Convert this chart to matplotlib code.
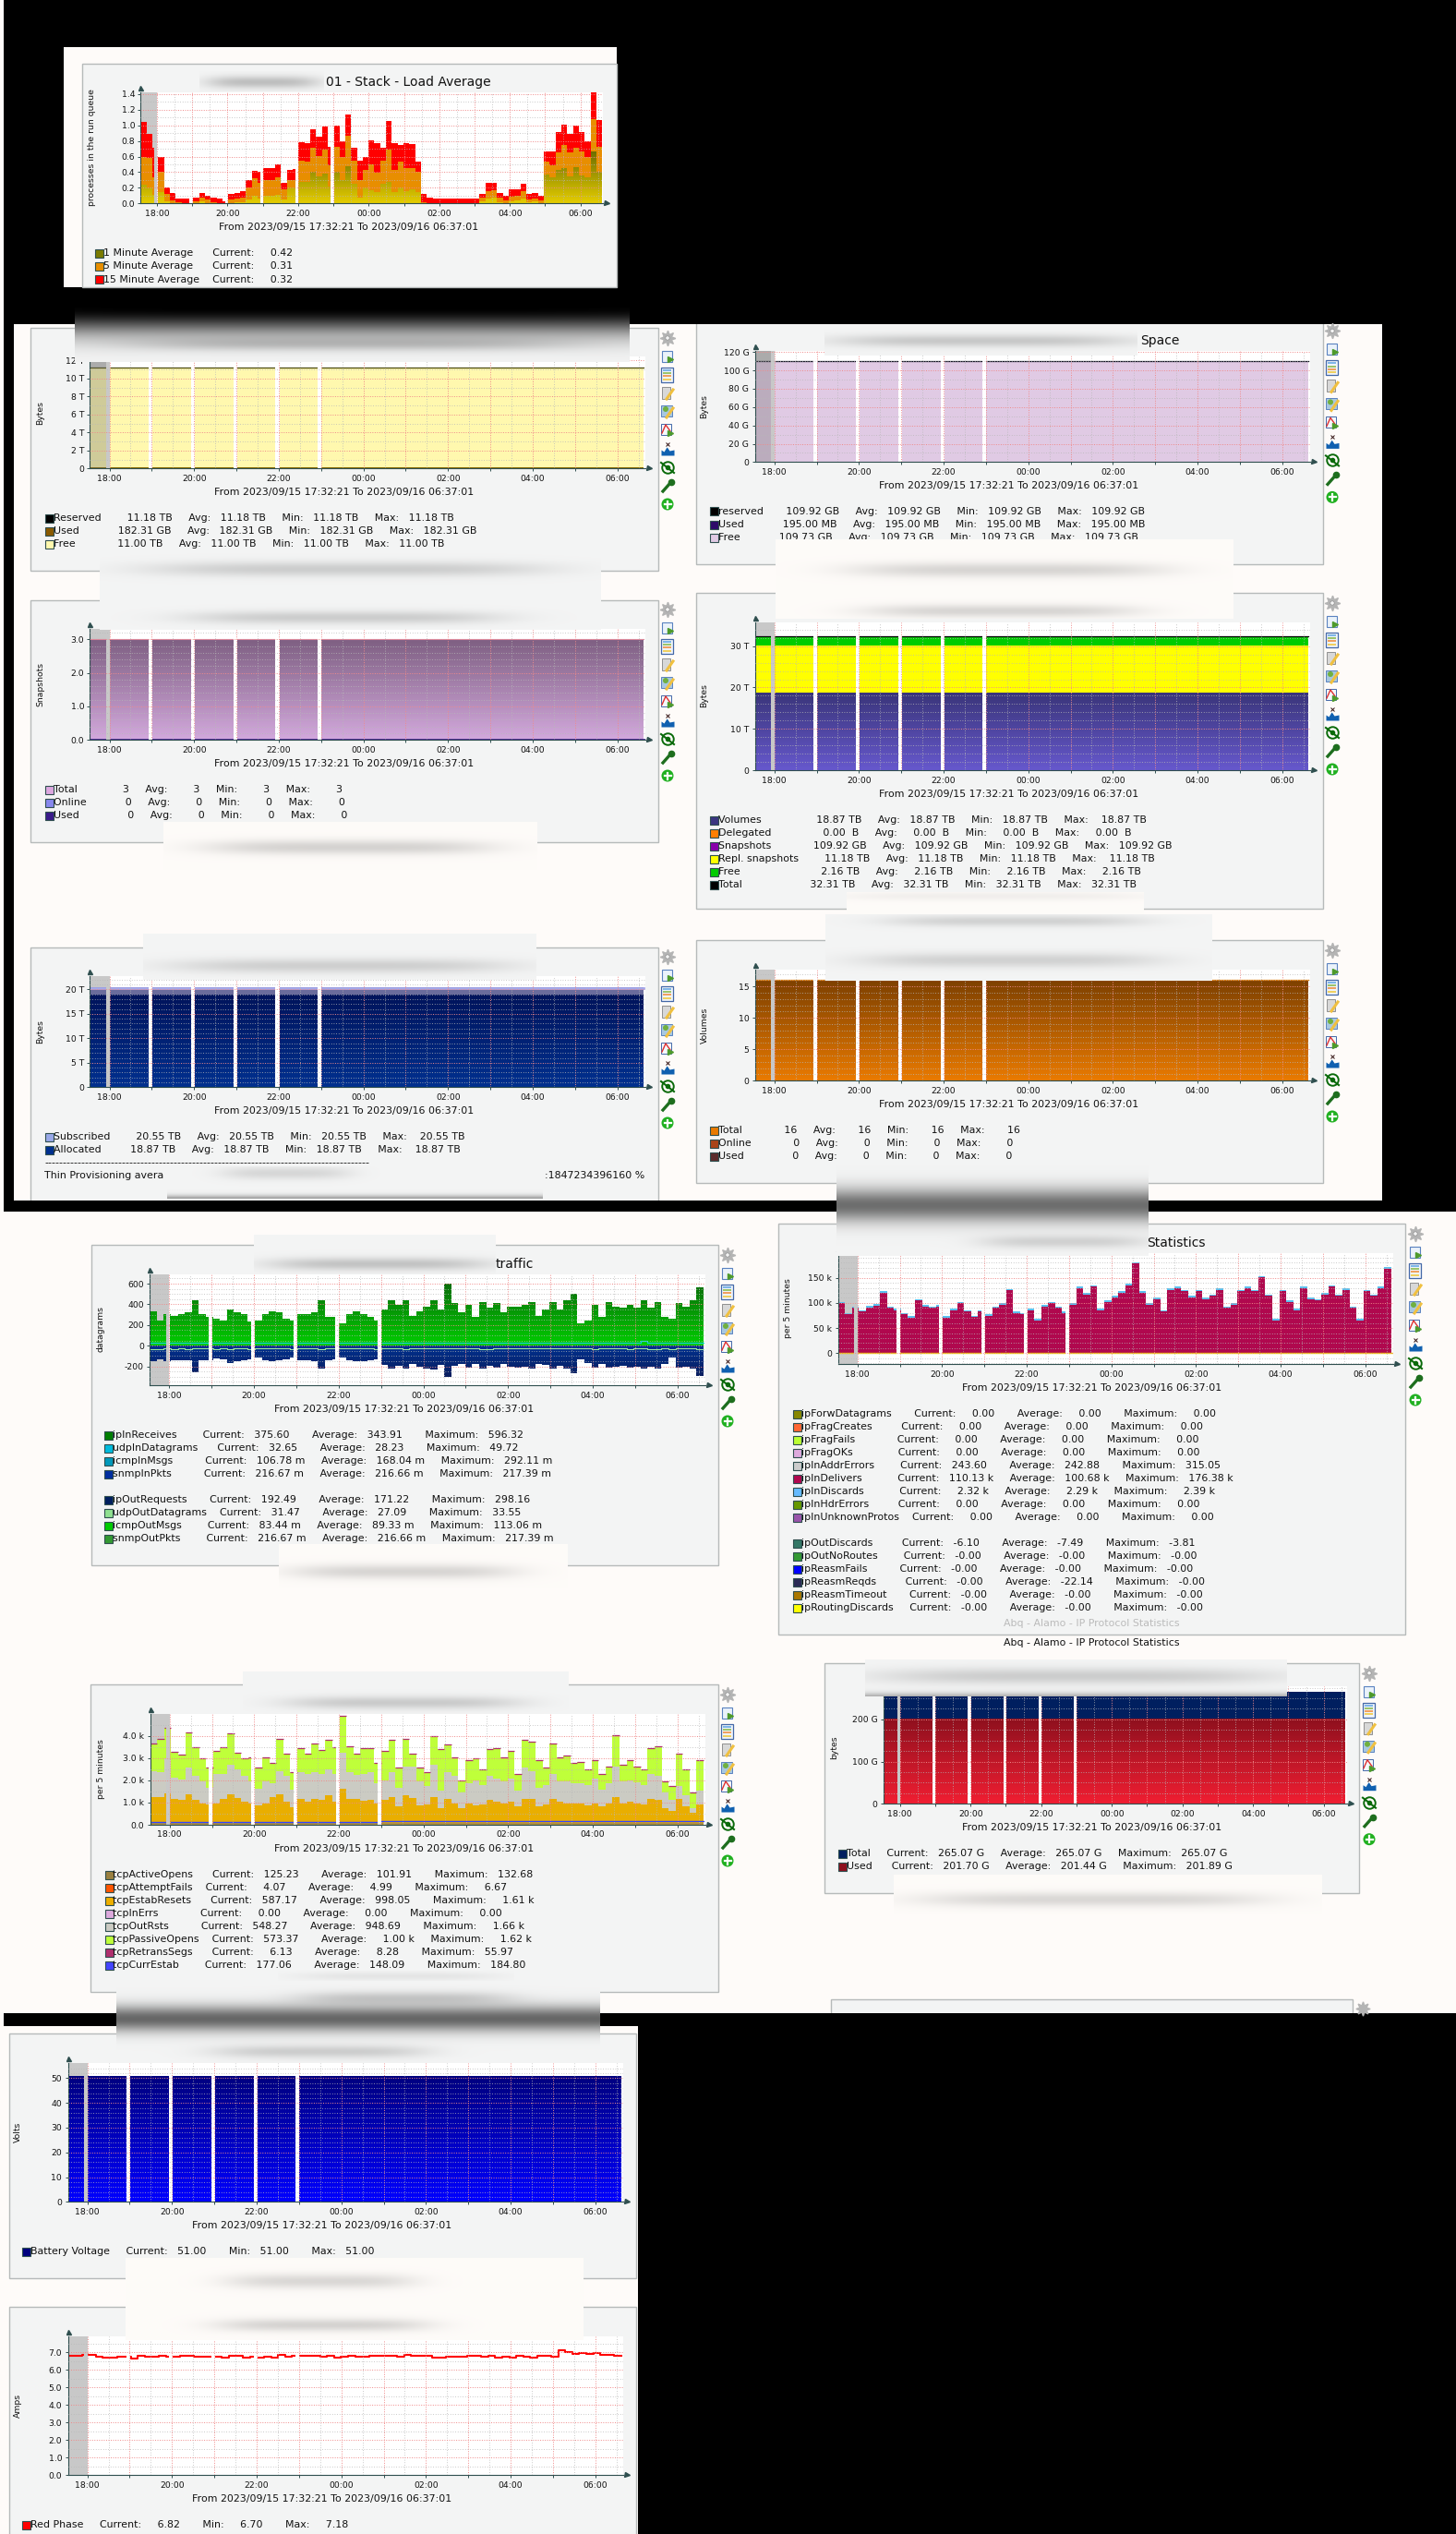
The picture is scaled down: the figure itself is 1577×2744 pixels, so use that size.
import re
import numpy as np
import matplotlib
matplotlib.use("Agg")
import matplotlib.pyplot as plt
from matplotlib.patches import Rectangle, Circle
from matplotlib.colors import LinearSegmentedColormap

W = 1577
H = 2744
plt.rcParams['font.family'] = ['DejaVu Sans']

FROM_TO = "From 2023/09/15 17:32:21 To 2023/09/16 06:37:01"
hour_ticks = [0, 1, 2, 3, 4, 5, 6, 7, 8, 9, 10, 11, 12]
hour_labels = ["18:00", "", "20:00", "", "22:00", "", "00:00", "", "02:00", "", "04:00", "", "06:00"]
gap_starts = [-0.075, 0.925, 1.93, 2.925, 3.925, 4.92]
gap_width = 0.09
T_START = -0.461
T_END = 12.617

# stacked tops, every 10 minutes
load_15min_top = [1.04, .89, .71, .6, .2, .14, .06, .06, .06, .07, .14, .10, .07, .06, .03, .12, .14, .16, .30, .42, .41, .45, .45, .50, .26, .43, .44, .78, .77, .95, .85, .98, .73, .99, .79, 1.14, .71, .55, .6, .81, .77, .71, 1.05, .77, .75, .77, .76, .53, .12, .08, .06, .06, .06, .06, .06, .06, .06, .06, .12, .26, .26, .14, .1, .18, .185, .25, .12, .13, .1, .67, .67, .91, 1.01, .89, .99, .91, .79, 1.42, 1.07]
load_5min_top = [.59, .58, .34, .4, .12, .04, .02, .01, .01, .03, .07, .05, .02, .01, .01, .05, .06, .08, .2, .32, .26, .3, .3, .34, .18, .3, .3, .55, .54, .71, .61, .69, .49, .73, .59, .87, .55, .3, .43, .5, .39, .55, .69, .43, .53, .45, .45, .41, .02, .01, .01, .01, .01, .01, .01, .01, .01, .01, .08, .16, .17, .08, .04, .09, .1, .16, .05, .06, .04, .53, .49, .65, .75, .65, .71, .67, .59, 1.08, .73]
load_1min_top = [.24, .21, .11, .15, .03, .01, 0, 0, 0, .01, .03, .01, 0, 0, 0, .01, .02, .02, .05, .1, .06, .1, .1, .11, .05, .2, .2, .28, .28, .4, .35, .38, .22, .4, .3, .48, .25, .08, .2, .17, .15, .25, .28, .15, .2, .16, .18, .15, .01, 0, 0, 0, 0, 0, 0, 0, 0, 0, .03, .06, .07, .02, .01, .03, .04, .06, .02, .03, .01, .37, .33, .43, .45, .35, .46, .36, .34, .66, .41]

# flat series, one value for the whole period
free_top = [11.18]
used_top = [0.18]
snap_total = [3.0]
subscribed = [20.55]
allocated = [18.87]
reserved_g = [109.92]
vol_volumes = [18.87]
vol_repl = [30.16]
vol_free = [32.31]
volumes_total = [16]
ip_total_g = [265.07]
ip_used_g = [201.7]
battery = [51.0]

traffic_in = [334, 245, 304, 290, 304, 320, 439, 304, 275, 260, 245, 350, 320, 304, 230, 245, 304, 334, 320, 260, 245, 304, 304, 320, 439, 275, 275, 215, 304, 334, 304, 275, 245, 350, 439, 394, 439, 290, 334, 379, 439, 350, 603, 409, 320, 394, 275, 424, 364, 409, 320, 379, 379, 394, 424, 290, 350, 424, 350, 439, 499, 215, 245, 394, 275, 424, 379, 364, 394, 364, 439, 364, 424, 275, 260, 409, 379, 439, 567]
traffic_out = [-152, -128, -150, -143, -143, -143, -254, -143, -137, -122, -131, -164, -146, -140, -128, -113, -143, -152, -143, -128, -113, -143, -137, -150, -218, -137, -128, -113, -143, -152, -150, -137, -128, -182, -218, -197, -218, -173, -203, -218, -230, -188, -301, -197, -173, -209, -173, -218, -197, -209, -173, -203, -209, -203, -224, -173, -188, -218, -197, -218, -263, -128, -167, -209, -173, -212, -203, -197, -209, -203, -224, -203, -218, -173, -113, -212, -203, -221, -292]
udp_in = [30, 31, 30, 30, 30, 29, 30, 28, 30, 28, 27, 28, 29, 29, 29, 28, 27, 28, 30, 30, 28, 27, 28, 28, 28, 27, 28, 29, 29, 29, 28, 27, 28, 29, 29, 28, 28, 27, 27, 28, 28, 28, 28, 27, 27, 28, 28, 27, 27, 28, 28, 27, 27, 28, 28, 27, 27, 28, 28, 29, 28, 28, 27, 28, 28, 27, 28, 28, 28, 30, 50, 30, 28, 30, 29, 29, 28, 29, 30]
udp_out = [-30, -30, -29, -30, -28, -30, -28, -28, -29, -31, -28, -30, -28, -28, -30, -28, -27, -29, -29, -28, -30, -26, -26, -29, -30, -26, -28, -27, -29, -29, -28, -28, -30, -29, -28, -29, -30, -28, -26, -26, -29, -28, -26, -28, -25, -28, -26, -30, -30, -27, -26, -29, -26, -25, -28, -28, -26, -26, -29, -25, -29, -27, -27, -30, -28, -27, -28, -28, -30, -29, -28, -30, -30, -27, -30, -28, -28, -29, -30]

ip_delivers_k = [99, 77, 90, 83, 91, 94.5, 120, 90, 86, 77, 71, 105, 93, 90, 93, 71, 86, 99, 83, 72, 83, 74, 90, 96, 125, 80, 77, 86, 65, 93, 99, 90, 80, 96, 129, 117, 132, 86, 102, 111, 120, 135, 178, 120, 96, 108, 83, 126, 129, 123, 111, 123, 108, 114, 126, 90, 96, 123, 129, 123, 151, 114, 65, 123, 102, 86, 129, 108, 105, 117, 132, 114, 126, 90, 65, 123, 114, 129, 168]

tcp_passive_top = [3.67, 3.87, 4.35, 3.29, 3.14, 4.15, 3.5, 3.0, 2.56, 3.3, 3.5, 4.1, 3.25, 2.97, 3.04, 2.56, 3.04, 2.77, 3.87, 3.18, 2.35, 3.46, 3.18, 3.67, 3.35, 3.8, 3.5, 4.91, 3.53, 3.18, 3.46, 3.46, 2.77, 3.32, 3.8, 2.56, 3.87, 3.18, 2.56, 2.35, 4.0, 3.39, 3.6, 3.04, 2.0, 2.9, 2.97, 2.49, 3.39, 3.46, 3.04, 3.32, 2.28, 3.8, 3.73, 2.9, 2.56, 3.67, 3.04, 3.11, 2.77, 2.84, 2.49, 2.9, 2.28, 2.63, 4.01, 2.7, 2.9, 2.63, 2.49, 3.46, 3.53, 1.94, 1.73, 3.18, 2.49, 1.45, 2.9]
tcp_outrsts_top = [2.42, 2.35, 2.97, 2.12, 2.03, 2.56, 2.21, 1.94, 1.66, 2.28, 2.28, 2.7, 2.49, 2.21, 1.94, 1.62, 1.94, 1.87, 2.42, 2.21, 1.56, 2.35, 2.28, 2.35, 2.28, 2.49, 2.28, 3.25, 2.35, 2.25, 2.28, 2.35, 1.87, 2.0, 2.35, 1.66, 2.63, 2.63, 1.94, 1.73, 2.7, 1.52, 2.35, 2.21, 1.45, 1.87, 2.0, 1.8, 2.21, 2.07, 1.94, 2.07, 1.52, 2.56, 2.42, 1.66, 1.8, 2.28, 1.94, 1.94, 1.87, 1.87, 1.8, 2.07, 1.56, 1.87, 2.63, 1.94, 2.0, 1.89, 1.8, 2.28, 2.21, 1.45, 1.11, 1.73, 1.31, .76, 1.52]
tcp_resets_top = [1.24, 1.24, 1.42, 1.15, 1.11, 1.38, 1.11, .97, .9, .97, 1.15, 1.38, 1.2, 1.04, .97, .87, .97, 1.24, 1.38, 1.04, .79, 1.18, 1.04, 1.18, 1.11, 1.31, 1.04, 1.62, 1.15, 1.18, 1.07, 1.11, .97, 1.11, 1.24, .83, 1.31, 1.2, .87, .9, 1.24, .76, 1.18, .97, .73, .97, .87, .9, 1.11, 1.04, .97, 1.04, .83, 1.18, 1.18, .83, .9, 1.18, 1.04, .97, .97, .97, .87, .97, .83, .97, 1.24, .97, 1.04, .97, .9, 1.15, 1.11, .73, .62, 1.18, .83, .55, .9]
tcp_base_top = [0.1] * 79
tcp_curr_estab = [.12] * 33 + [.17] * 46

red_phase = [6.82, 6.82, 6.85, 6.88, 6.75, 6.72, 6.72, 6.75, 6.78, 6.67, 6.8, 6.78, 6.78, 6.8, 6.78, 6.78, 6.8, 6.8, 6.78, 6.78, 6.78, 6.78, 6.72, 6.8, 6.8, 6.73, 6.78, 6.73, 6.75, 6.73, 6.88, 6.75, 6.82, 6.82, 6.82, 6.82, 6.75, 6.8, 6.72, 6.78, 6.8, 6.78, 6.78, 6.82, 6.82, 6.82, 6.82, 6.78, 6.85, 6.82, 6.82, 6.82, 6.72, 6.72, 6.78, 6.78, 6.78, 6.8, 6.8, 6.78, 6.8, 6.72, 6.76, 6.72, 6.8, 6.76, 6.72, 6.8, 6.82, 6.78, 7.15, 7.02, 6.92, 6.95, 6.92, 6.98, 6.85, 6.85, 6.82]

fig = plt.figure(figsize=(W / 100, H / 100), dpi=100, facecolor="black")

back = fig.add_axes([0, 0, 1, 1], zorder=0)
back.set_xlim(0, W)
back.set_ylim(H, 0)
back.axis("off")

top = fig.add_axes([0, 0, 1, 1], zorder=5)
top.set_xlim(0, W)
top.set_ylim(H, 0)
top.axis("off")
top.patch.set_alpha(0)

PAGE = "#FEFBF9"
CARD = "#F3F4F4"
EDGE = "#B6BABA"
DARK = "#2F4F4F"
TXT = "#111111"
FS = 6.7
FS_TEXT = 7.9


def page(x0, y0, x1, y1, color=PAGE):
    back.add_patch(Rectangle((x0, y0), x1 - x0, y1 - y0, fc=color, ec="none"))


def card(x0, y0, x1, y1):
    back.add_patch(Rectangle((x0, y0), x1 - x0, y1 - y0, fc=CARD, ec=EDGE, lw=1.0))


def edges(vals):
    return np.linspace(T_START, T_END, len(vals) + 1)


def steps(vals):
    return np.r_[vals, vals[-1]]


def band(ax, lo, hi, color, z=1.0):
    x = edges(hi)
    lo = np.zeros(len(x)) if lo is None else steps(lo)
    ax.fill_between(x, lo, steps(hi), step="post", color=color, lw=0, zorder=z)


def grad_band(ax, lo, hi, top_col, bot_col, z=1.0):
    x = edges(hi)
    y0 = np.zeros(len(x)) if lo is None else steps(lo)
    y1 = steps(hi)
    poly = ax.fill_between(x, y0, y1, step="post", facecolor="none", edgecolor="none", zorder=z)
    cmap = LinearSegmentedColormap.from_list("g", [bot_col, top_col])
    low = min(y0.min(), y1.min())
    high = max(y0.max(), y1.max())
    if low < 0:
        cmap = LinearSegmentedColormap.from_list("g", [top_col, bot_col])
    im = ax.imshow(np.linspace(0, 1, 64).reshape(-1, 1), extent=[x[0], x[-1], low, high],
                   origin="lower", aspect="auto", cmap=cmap, zorder=z)
    im.set_clip_path(poly.get_paths()[0], transform=ax.transData)


def plot_box(left, ptop, right, bottom, h18, pph, ymin, ymax, yticks, ylabels, yminor, ylabel, ylx, yly,
             shade_over=False):
    ax = fig.add_axes([left / W, 1 - bottom / H, (right - left) / W, (bottom - ptop) / H], zorder=1)
    xmin = (left - h18) / pph
    xmax = (right - h18) / pph
    ax.set_facecolor("white")
    ax.axvspan(xmin, 0, color="#C8C8C8", lw=0, zorder=0.5)
    if shade_over:
        ax.axvspan(xmin, 0, color="#707070", alpha=0.33, lw=0, zorder=1.9)
    for i, g in enumerate(gap_starts):
        if g < 0:
            ax.axvspan(g, 0, color="#C8C8C8", lw=0, zorder=2)
            ax.axvspan(0, g + gap_width, color="white", lw=0, zorder=2)
        else:
            ax.axvspan(g, g + gap_width, color="white", lw=0, zorder=2)
    ax.set_xticks(hour_ticks)
    ax.set_xticklabels(hour_labels, fontsize=FS, color=TXT)
    ax.set_xticks(np.arange(0.5, 12.6, 1.0), minor=True)
    ax.set_yticks(yticks)
    ax.set_yticklabels(ylabels, fontsize=FS, color=TXT)
    ax.set_yticks(yminor, minor=True)
    ax.tick_params(axis="both", which="major", length=2, width=0.7, color=DARK, pad=2.5)
    ax.tick_params(axis="both", which="minor", length=0)
    ax.set_axisbelow(False)
    ax.grid(True, which="major", color="#F08A8A", lw=0.7, ls=(0, (1, 1.6)))
    ax.grid(True, which="minor", color="#B8B8B8", lw=0.6, ls=(0, (1, 2.2)))
    for s in ["top", "right"]:
        ax.spines[s].set_visible(False)
    for s in ["left", "bottom"]:
        ax.spines[s].set_color(DARK)
        ax.spines[s].set_linewidth(0.8)
    ax.set_xlim(xmin, xmax)
    ax.set_ylim(ymin, ymax)
    top.plot([left], [ptop - 5], marker="^", ms=3.6, color=DARK, zorder=3, clip_on=False)
    top.plot([right + 4], [bottom], marker=">", ms=3.6, color=DARK, zorder=3, clip_on=False)
    top.text(ylx, yly, ylabel, rotation=90, ha="center", va="center", fontsize=FS, color=TXT, zorder=4)
    return ax


def footer(cx, y):
    top.text(cx, y, FROM_TO, ha="center", va="center", fontsize=FS_TEXT, color=TXT, zorder=4)


def tighten(row):
    # the runs of spaces were counted for a narrower space
    return re.sub(" {2,}", lambda m: " " * max(2, round(len(m.group()) * 0.84)), row)


def legend(x, ys, rows, colors):
    for y, row, c in zip(ys, rows, colors):
        top.add_patch(Rectangle((x, y - 4.5), 9, 9, fc=c, ec=DARK, lw=0.8, zorder=4))
        top.text(x + 9, y, tighten(row), ha="left", va="center", fontsize=FS_TEXT, color=TXT, zorder=4)


def rows_y(y0, n, skip=None):
    out = []
    y = y0
    for i in range(n):
        if skip is not None and i == skip:
            y += 14
        out.append(y)
        y += 14
    return out


def icons(cx, y0):
    s = 20
    # gear
    top.plot([cx], [y0], marker=(8, 1, 0), ms=12, color="#B4B4B4", zorder=4)
    top.add_patch(Circle((cx, y0), 5, fc="#B4B4B4", ec="none", zorder=4))
    top.add_patch(Circle((cx, y0), 2.2, fc="#F4F4F4", ec="#909090", lw=0.5, zorder=4))
    # export table
    y = y0 + s
    top.add_patch(Rectangle((cx - 6, y - 6), 11, 12, fc="#EAF2FA", ec="#5A82C0", lw=0.8, zorder=4))
    top.plot([cx + 3], [y + 3], marker=">", ms=5, color="#4E9A2C", zorder=4)
    # table
    y = y0 + 2 * s
    top.add_patch(Rectangle((cx - 7, y - 8), 13, 16, fc="#F0F4FA", ec="#4468A8", lw=0.9, zorder=4))
    for k, c in enumerate(["#7FB6E8", "#9CC46C", "#F0A060", "#F0D060"]):
        top.add_patch(Rectangle((cx - 5, y - 6 + k * 3.2), 9, 2, fc=c, ec="none", zorder=4))
    # page and pencil
    y = y0 + 3 * s
    top.add_patch(Rectangle((cx - 6, y - 7), 9, 13, fc="#D8D8D8", ec="#909090", lw=0.7, zorder=4))
    top.plot([cx - 1, cx + 6], [y + 6, y - 4], color="#F0C040", lw=2.2, zorder=4)
    # map and pencil
    y = y0 + 4 * s
    top.add_patch(Rectangle((cx - 7, y - 7), 12, 12, fc="#A8C8E0", ec="#5A82C0", lw=0.7, zorder=4))
    top.add_patch(Circle((cx - 2, y - 3), 3, fc="#70B040", ec="none", zorder=4))
    top.plot([cx - 1, cx + 6], [y + 6, y - 4], color="#F0C040", lw=2.2, zorder=4)
    # chart and arrow
    y = y0 + 5 * s
    top.add_patch(Rectangle((cx - 7, y - 7), 11, 12, fc="#F4F8FC", ec="#4468A8", lw=0.7, zorder=4))
    top.plot([cx - 6, cx - 2, cx + 3], [y + 3, y - 6, y + 1], color="#E03030", lw=1.0, zorder=4)
    top.plot([cx + 3], [y + 3], marker=">", ms=5, color="#4E9A2C", zorder=4)
    # blue peaks
    y = y0 + 6 * s
    top.fill_between([cx - 7, cx - 4, cx - 1, cx, cx + 2, cx + 7], [y + 7] * 6,
                     [y + 1, y + 3, y - 2, y - 1, y + 2, y + 1], color="#1060B0", lw=0, zorder=4)
    top.plot([cx], [y - 5], marker="x", ms=3, mew=0.7, color="#301010", zorder=4)
    # crossed eye
    y = y0 + 7 * s
    top.plot([cx], [y], marker="o", ms=9, mfc="none", mec="#0A6A0A", mew=1.4, zorder=4)
    top.plot([cx - 7, cx + 7], [y - 5, y + 6], color="#0A6A0A", lw=1.5, zorder=4)
    top.plot([cx], [y], marker="o", ms=3, color="#0A6A0A", zorder=4)
    # wrench
    y = y0 + 8 * s
    top.plot([cx - 5, cx + 3], [y + 6, y - 3], color="#1E6E1E", lw=2.4, zorder=4)
    top.plot([cx + 4], [y - 4], marker="o", ms=4.5, color="#1E6E1E", zorder=4)
    # plus
    y = y0 + 9 * s
    top.add_patch(Circle((cx, y), 6.5, fc="#20B020", ec="none", zorder=4))
    top.plot([cx - 3.5, cx + 3.5], [y, y], color="white", lw=1.6, zorder=4)
    top.plot([cx, cx], [y - 3.5, y + 3.5], color="white", lw=1.6, zorder=4)


def blur_box(x0, y0, x1, y1, blobs, bg=(0.96, 0.96, 0.96)):
    w = int(x1 - x0)
    h = int(y1 - y0)
    yy, xx = np.mgrid[y0:y1:h * 1j, x0:x1:w * 1j]
    shade = np.ones((h, w))
    for cx, cy, sx, sy, s in blobs:
        shade -= s * np.exp(-((xx - cx) / sx) ** 4 - ((yy - cy) / sy) ** 2)
    rgb = np.clip(shade, 0, 1)[..., None] * np.array(bg)
    top.imshow(rgb, extent=[x0, x1, y1, y0], aspect="auto", zorder=5, interpolation="bilinear")


# page backgrounds
page(0, 0, 4, 1312)
page(69, 51, 668, 311)
page(15, 351, 1497, 1300)
page(0, 1312, W, 2180)
page(0, 2180, 4, 2744)
page(4, 2194, 691, 2744)

# ---- load average
back.add_patch(Rectangle((89, 69), 579, 242, fc=CARD, ec=EDGE, lw=1.0))
ax = plot_box(152.4, 100, 653.4, 220.4, 169.7, 38.25, 0, 1.42,
              [0, .2, .4, .6, .8, 1.0, 1.2, 1.4], ["0.0", "0.2", "0.4", "0.6", "0.8", "1.0", "1.2", "1.4"],
              np.arange(0.1, 1.45, 0.2), "processes in the run queue", 99.4, 160)
band(ax, None, load_15min_top, "#FF0000")
band(ax, None, load_5min_top, "#E88E00", 1.1)
grad_band(ax, None, load_1min_top, "#6F6F00", "#E4CC00", 1.2)
ax.set_xlim(T_START, 12.647)
ax.set_ylim(0, 1.42)
top.text(353, 89, "01 - Stack - Load Average", ha="left", va="center", fontsize=10, color=TXT, zorder=4)
footer(378, 246.5)
legend(103, [274, 288, 302.5],
       ["1 Minute Average       Current:      0.42", "5 Minute Average       Current:      0.31",
        "15 Minute Average     Current:      0.32"], ["#7B7B00", "#E88E00", "#FF0000"])

# ---- reserved/used/free TB
card(33, 355, 712.6, 618)
icons(723, 366)
ax = plot_box(97.4, 386, 699, 507.3, 118.8, 45.85, 0, 12.45,
              [0, 2, 4, 6, 8, 10, 12], ["0", "2 T", "4 T", "6 T", "8 T", "10 T", "12 T"],
              np.arange(1, 12, 2), "Bytes", 44, 447, shade_over=True)
band(ax, None, free_top, "#FFF8AE")
band(ax, None, used_top, "#8A6A00", 1.1)
ax.plot(edges(free_top), steps(free_top), color="#4A4A10", lw=0.9, zorder=1.2)
ax.set_xlim(T_START, 12.66)
ax.set_ylim(0, 12.45)
footer(373, 533)
legend(48.5, [561.2, 575, 589.4],
       ["Reserved          11.18 TB      Avg:    11.18 TB      Min:    11.18 TB      Max:    11.18 TB",
        "Used              182.31 GB      Avg:    182.31 GB      Min:    182.31 GB      Max:    182.31 GB",
        "Free               11.00 TB      Avg:    11.00 TB      Min:    11.00 TB      Max:    11.00 TB"],
       ["#000000", "#8A5A00", "#FFF8AE"])

# ---- snapshots count
card(33, 649.5, 712.6, 912.3)
icons(723, 660)
ax = plot_box(97.4, 681, 699, 801.3, 118.8, 45.85, 0, 3.31,
              [0, 1, 2, 3], ["0.0", "1.0", "2.0", "3.0"], np.arange(0.2, 3.3, 0.2), "Snapshots", 44, 740.6)
grad_band(ax, None, snap_total, "#7E5F82", "#D2A8DC")
ax.plot(edges(snap_total), steps(snap_total), color="#D08AA8", lw=0.8, zorder=1.2)
ax.axhline(0, color="#3A1A8A", lw=1.2, zorder=1.3)
ax.set_xlim(T_START, 12.66)
ax.set_ylim(0, 3.31)
footer(373, 827)
legend(48.5, [855, 869, 883],
       ["Total                 3      Avg:          3      Min:          3      Max:          3",
        "Online              0      Avg:          0      Min:          0      Max:          0",
        "Used                  0      Avg:          0      Min:          0      Max:          0"],
       ["#DDA8E0", "#8888EE", "#3A1A8A"])

# ---- subscribed / allocated
card(33, 1025.5, 712.6, 1301)
icons(723, 1036)
ax = plot_box(97.4, 1057, 699, 1177.3, 118.8, 45.85, 0, 22.73,
              [0, 5, 10, 15, 20], ["0", "5 T", "10 T", "15 T", "20 T"], np.arange(1, 23, 1), "Bytes", 44, 1116.5)
band(ax, None, subscribed, "#6A6C9C")
grad_band(ax, None, allocated, "#00145C", "#00308F", 1.1)
ax.plot(edges(subscribed), np.array(steps(subscribed)) - 0.3, color="#A5A8EA", lw=2.0, zorder=1.2)
ax.set_xlim(T_START, 12.66)
ax.set_ylim(0, 22.73)
footer(373, 1202.8)
legend(48.5, [1231, 1245],
       ["Subscribed         20.55 TB      Avg:    20.55 TB      Min:    20.55 TB      Max:     20.55 TB",
        "Allocated           18.87 TB      Avg:    18.87 TB      Min:    18.87 TB      Max:     18.87 TB"],
       ["#99A8E8", "#00308F"])
top.text(48.5, 1258.8, "-" * 88, ha="left", va="center", fontsize=FS_TEXT, color=TXT, zorder=4)
top.text(48.5, 1273, "Thin Provisioning avera", ha="left", va="center", fontsize=FS_TEXT, color=TXT, zorder=4)
top.text(698, 1273, ":1847234396160 %", ha="right", va="center", fontsize=FS_TEXT, color=TXT, zorder=4)

# ---- reserved/used/free GB
card(753.6, 345, 1432.7, 611)
icons(1443, 358.4)
ax = plot_box(817.6, 380, 1419, 500.4, 838.4, 45.85, 0, 121.2,
              [0, 20, 40, 60, 80, 100, 120], ["0", "20 G", "40 G", "60 G", "80 G", "100 G", "120 G"],
              np.arange(10, 121, 20), "Bytes", 763, 440, shade_over=True)
band(ax, None, reserved_g, "#E0CAE4")
ax.plot(edges(reserved_g), steps(reserved_g), color="#101020", lw=0.9, zorder=1.2)
ax.set_xlim(T_START, 12.66)
ax.set_ylim(0, 121.2)
top.text(1235, 369, "Space", ha="left", va="center", fontsize=10, color=TXT, zorder=4)
footer(1093, 526)
legend(768.5, [553.9, 568.2, 582],
       ["reserved        109.92 GB      Avg:   109.92 GB      Min:   109.92 GB      Max:   109.92 GB",
        "Used              195.00 MB      Avg:   195.00 MB      Min:   195.00 MB      Max:   195.00 MB",
        "Free              109.73 GB      Avg:   109.73 GB      Min:   109.73 GB      Max:   109.73 GB"],
       ["#000000", "#2E0A6A", "#E0CAE4"])

# ---- volumes stacked
card(753.6, 642.4, 1432.7, 984)
icons(1443, 653)
ax = plot_box(817.6, 674, 1419, 834.3, 838.4, 45.85, 0, 35.7,
              [0, 10, 20, 30], ["0", "10 T", "20 T", "30 T"], np.arange(2, 36, 2), "Bytes", 763, 753)
band(ax, None, vol_free, "#00CC00")
band(ax, None, vol_repl, "#FFFF00", 1.1)
grad_band(ax, None, vol_volumes, "#3A357A", "#6658CC", 1.2)
ax.plot(edges(vol_free), steps(vol_free), color="#000000", lw=0.9, zorder=1.3)
ax.set_xlim(T_START, 12.66)
ax.set_ylim(0, 35.7)
footer(1093, 860)
legend(768.5, rows_y(888.2, 6),
       ["Volumes                    18.87 TB      Avg:    18.87 TB      Min:    18.87 TB      Max:     18.87 TB",
        "Delegated                   0.00  B      Avg:      0.00  B      Min:      0.00  B      Max:      0.00  B",
        "Snapshots                109.92 GB      Avg:   109.92 GB      Min:   109.92 GB      Max:   109.92 GB",
        "Repl. snapshots          11.18 TB      Avg:    11.18 TB      Min:    11.18 TB      Max:     11.18 TB",
        "Free                              2.16 TB      Avg:      2.16 TB      Min:      2.16 TB      Max:      2.16 TB",
        "Total                         32.31 TB      Avg:    32.31 TB      Min:    32.31 TB      Max:    32.31 TB"],
       ["#3A3580", "#FF7F00", "#8800AA", "#FFFF00", "#00CC00", "#000000"])

# ---- volumes count
card(753.6, 1018.3, 1432.7, 1281)
icons(1443, 1029)
ax = plot_box(817.6, 1050, 1419, 1170.3, 838.4, 45.85, 0, 17.68,
              [0, 5, 10, 15], ["0", "5", "10", "15"], np.arange(1, 17.6, 1), "Volumes", 763, 1110)
grad_band(ax, None, volumes_total, "#7E4100", "#E97A00")
ax.plot(edges(volumes_total), steps(volumes_total), color="#E07800", lw=0.9, zorder=1.2)
ax.set_xlim(T_START, 12.66)
ax.set_ylim(0, 17.68)
footer(1093, 1196.3)
legend(768.5, rows_y(1224.3, 3),
       ["Total               16      Avg:        16      Min:        16      Max:        16",
        "Online               0      Avg:          0      Min:          0      Max:          0",
        "Used                  0      Avg:          0      Min:          0      Max:          0"],
       ["#E97A00", "#AA4418", "#5C2C2C"])

# black above and below the middle screenshot
page(4, 1300, W, 1312, color="black")
page(15, 330, 1497, 351, color="black")

# ---- ip traffic
card(98.5, 1348.3, 777.6, 1695.3)
icons(788, 1359)
ax = plot_box(162.2, 1380, 764, 1500.3, 183.7, 45.85, -385, 690,
              [-200, 0, 200, 400, 600], ["-200", "0", "200", "400", "600"],
              np.arange(-350, 690, 50), "datagrams", 108.7, 1439)
grad_band(ax, None, traffic_in, "#0A6E0A", "#00CC00")
grad_band(ax, None, traffic_out, "#0A1E5F", "#00308F", 1.1)
ax.step(edges(udp_in), steps(udp_in), where="post", color="#18C8D8", lw=0.9, zorder=1.3)
ax.step(edges(udp_out), steps(udp_out), where="post", color="#A0E8A0", lw=0.8, zorder=1.3)
ax.set_xlim(T_START, 12.66)
ax.set_ylim(-385, 690)
top.text(537, 1369.3, "traffic", ha="left", va="center", fontsize=10, color=TXT, zorder=4)
footer(437.8, 1526.3)
legend(113, rows_y(1554.3, 8, skip=4),
       ["ipInReceives          Current:   375.60        Average:   343.91        Maximum:   596.32",
        "udpInDatagrams       Current:    32.65        Average:    28.23        Maximum:    49.72",
        "icmpInMsgs            Current:   106.78 m      Average:   168.04 m      Maximum:   292.11 m",
        "snmpInPkts            Current:   216.67 m      Average:   216.66 m      Maximum:   217.39 m",
        "ipOutRequests        Current:   192.49        Average:   171.22        Maximum:   298.16",
        "udpOutDatagrams     Current:    31.47        Average:    27.09        Maximum:    33.55",
        "icmpOutMsgs          Current:    83.44 m      Average:    89.33 m      Maximum:   113.06 m",
        "snmpOutPkts          Current:   216.67 m      Average:   216.66 m      Maximum:   217.39 m"],
       ["#007F00", "#00BBDD", "#0099BB", "#002E9F", "#001F5F", "#90E090", "#00CC00", "#339933"])

# ---- ip statistics
card(843.3, 1325.3, 1522.4, 1770.3)
icons(1533, 1336)
ax = plot_box(907.6, 1356.7, 1509, 1477.3, 928.6, 45.87, -22000, 199600,
              [0, 50000, 100000, 150000], ["0", "50 k", "100 k", "150 k"],
              np.arange(-20000, 199000, 10000), "per 5 minutes", 854, 1416.7)
ip_delivers = np.array(ip_delivers_k) * 1000
band(ax, None, ip_delivers + 3000, "#5BC0F0")
band(ax, None, ip_delivers, "#B0084E", 1.1)
ax.axhline(0, color="#E8C800", lw=1.0, zorder=1.3)
ax.set_xlim(T_START, 12.66)
ax.set_ylim(-22000, 199600)
top.text(1242, 1346, "Statistics", ha="left", va="center", fontsize=10, color=TXT, zorder=4)
footer(1182.4, 1503.3)
ip_rows = ["ipForwDatagrams        Current:      0.00        Average:      0.00        Maximum:      0.00",
           "ipFragCreates           Current:      0.00        Average:      0.00        Maximum:      0.00",
           "ipFragFails               Current:      0.00        Average:      0.00        Maximum:      0.00",
           "ipFragOKs                 Current:      0.00        Average:      0.00        Maximum:      0.00",
           "ipInAddrErrors          Current:   243.60        Average:   242.88        Maximum:   315.05",
           "ipInDelivers             Current:   110.13 k      Average:   100.68 k      Maximum:   176.38 k",
           "ipInDiscards             Current:      2.32 k      Average:      2.29 k      Maximum:      2.39 k",
           "ipInHdrErrors           Current:      0.00        Average:      0.00        Maximum:      0.00",
           "ipInUnknownProtos     Current:      0.00        Average:      0.00        Maximum:      0.00",
           "ipOutDiscards           Current:    -6.10        Average:    -7.49        Maximum:    -3.81",
           "ipOutNoRoutes          Current:    -0.00        Average:    -0.00        Maximum:    -0.00",
           "ipReasmFails            Current:    -0.00        Average:    -0.00        Maximum:    -0.00",
           "ipReasmReqds           Current:    -0.00        Average:   -22.14        Maximum:    -0.00",
           "ipReasmTimeout        Current:    -0.00        Average:    -0.00        Maximum:    -0.00",
           "ipRoutingDiscards      Current:    -0.00        Average:    -0.00        Maximum:    -0.00"]
legend(858.5, rows_y(1531.3, 15, skip=9), ip_rows,
       ["#888800", "#FF6633", "#BBFF33", "#DDAADD", "#CCCCCC", "#B0084E", "#66BBFF", "#669900", "#9955AA",
        "#337766", "#339933", "#0000FF", "#2A2A55", "#AA7700", "#FFFF00"])
top.text(1182, 1758.3, "Abq - Alamo - IP Protocol Statistics", ha="center", va="center", fontsize=FS_TEXT,
         color="#BBBBBB", zorder=4)
top.text(1182, 1778.7, "Abq - Alamo - IP Protocol Statistics", ha="center", va="center", fontsize=FS_TEXT,
         color=TXT, zorder=4)

# ---- tcp statistics
card(98.4, 1824.3, 777.5, 2157.3)
icons(788, 1835)
ax = plot_box(162.6, 1856, 764, 1976, 183.4, 45.85, 0, 4980,
              [0, 1000, 2000, 3000, 4000], ["0.0", "1.0 k", "2.0 k", "3.0 k", "4.0 k"],
              np.arange(500, 4980, 500), "per 5 minutes", 109, 1915.7)
band(ax, None, np.array(tcp_passive_top) * 1000, "#BFFF3A")
band(ax, None, np.array(tcp_outrsts_top) * 1000, "#CBCBC3", 1.1)
band(ax, None, np.array(tcp_resets_top) * 1000, "#E9AE00", 1.2)
band(ax, None, np.array(tcp_base_top) * 1000, "#AE9040", 1.3)
x_tcp = edges(tcp_passive_top)
ax.hlines(np.array(tcp_passive_top) * 1000, x_tcp[:-1], x_tcp[1:], color="#B0306E", lw=0.9, zorder=1.4)
ax.step(x_tcp, steps(np.array(tcp_curr_estab) * 1000), where="post", color="#3344FF", lw=1.0, zorder=1.5)
ax.set_xlim(T_START, 12.66)
ax.set_ylim(0, 4980)
footer(437.7, 2002.3)
legend(113.5, rows_y(2030.3, 8),
       ["tcpActiveOpens       Current:   125.23        Average:   101.91        Maximum:   132.68",
        "tcpAttemptFails     Current:      4.07        Average:      4.99        Maximum:      6.67",
        "tcpEstabResets       Current:   587.17        Average:   998.05        Maximum:      1.61 k",
        "tcpInErrs                Current:      0.00        Average:      0.00        Maximum:      0.00",
        "tcpOutRsts            Current:   548.27        Average:   948.69        Maximum:      1.66 k",
        "tcpPassiveOpens     Current:   573.37        Average:      1.00 k      Maximum:      1.62 k",
        "tcpRetransSegs       Current:      6.13        Average:      8.28        Maximum:    55.97",
        "tcpCurrEstab          Current:   177.06        Average:   148.09        Maximum:   184.80"],
       ["#9A8040", "#FF5500", "#EEAF00", "#DDAADD", "#CBCBC3", "#BFFF3A", "#B0306E", "#4444FF"])

# ---- total / used
card(893.4, 1801.3, 1472.3, 2050.3)
icons(1483, 1811.7)
ax = plot_box(957, 1826, 1459, 1953.3, 974.3, 38.3, 0, 278.5,
              [0, 100, 200], ["0", "100 G", "200 G"], np.arange(25, 278, 25), "bytes", 903.4, 1892)
band(ax, None, ip_total_g, "#001F5F")
grad_band(ax, None, ip_used_g, "#8E101E", "#F01E32", 1.1)
ax.set_xlim(T_START, 12.66)
ax.set_ylim(0, 278.5)
footer(1182.8, 1979.3)
legend(908, [2007.3, 2021.3],
       ["Total      Current:   265.07 G      Average:   265.07 G      Maximum:   265.07 G",
        "Used       Current:   201.70 G      Average:   201.44 G      Maximum:   201.89 G"],
       ["#001F5F", "#8E101E"])

# ---- cut off card at the bottom of the page
card(900, 2165.3, 1465, 2195)
top.plot([1476], [2175], marker=(8, 1, 0), ms=11, color="#B4B4B4", zorder=4)

# black band between the screenshots
page(4, 2180, W, 2194, color="black")
page(691, 2194, W, 2744, color="black")
page(1497, 0, W, 1312, color="black")

# ---- battery
card(9.6, 2202.3, 688.7, 2467.4)
ax = plot_box(73.5, 2234, 675, 2384.3, 94.6, 45.85, 0, 56.15,
              [0, 10, 20, 30, 40, 50], ["0", "10", "20", "30", "40", "50"],
              np.arange(2, 56, 2), "Volts", 19, 2308.8)
grad_band(ax, None, battery, "#00007F", "#0000FF")
ax.set_xlim(T_START, 12.66)
ax.set_ylim(0, 56.15)
footer(349, 2410.2)
legend(24, [2438.3], ["Battery Voltage      Current:    51.00        Min:    51.00        Max:    51.00"], ["#00007F"])

# ---- amps
card(9.6, 2498.3, 688.7, 2800)
ax = plot_box(73.5, 2530, 675, 2680.4, 94.6, 45.85, 0, 7.92,
              [0, 1, 2, 3, 4, 5, 6, 7], ["0.0", "1.0", "2.0", "3.0", "4.0", "5.0", "6.0", "7.0"],
              np.arange(0.5, 7.9, 1.0), "Amps", 19, 2604.5)
ax.step(edges(red_phase), steps(red_phase), where="post", color="#FF0000", lw=1.5, zorder=1.5)
ax.set_xlim(T_START, 12.66)
ax.set_ylim(0, 7.92)
footer(349, 2706.2)
legend(24, [2734.3], ["Red Phase      Current:      6.82        Min:      6.70        Max:      7.18"], ["#FF0000"])

# redacted titles, drawn over everything
CARDBG = (0.955, 0.958, 0.958)
PAGEBG = (0.995, 0.985, 0.975)
blur_box(216, 77, 351, 99, [(285, 89, 62, 7, 0.22)], CARDBG)
blur_box(81, 333, 682, 392, [(380, 333, 900, 27, 1.0), (380, 373, 235, 7, 0.15)], CARDBG)
blur_box(107.6, 594, 650, 682, [(375, 616, 215, 8, 0.16), (372, 669, 170, 7, 0.16)], CARDBG)
blur_box(177, 890, 582, 942, [(378, 917.5, 155, 8, 0.16)], PAGEBG)
blur_box(155, 1011, 581, 1061, [(370, 1046, 185, 8, 0.15)], CARDBG)
blur_box(181, 1263, 588, 1298, [(310, 1270, 70, 7, 0.12), (380, 1300, 900, 5, 0.4)], CARDBG)
blur_box(893, 354, 1232, 385, [(1065, 369, 162, 7, 0.18)], CARDBG)
blur_box(840, 584, 1336, 670, [(1092, 617, 170, 8, 0.15), (1085, 662, 148, 7, 0.15)], PAGEBG)
blur_box(917, 966, 1239, 990, [(1075, 970, 170, 5, 0.05)], PAGEBG)
blur_box(894, 990, 1313, 1062, [(1100, 997, 140, 6, 0.14), (1095, 1040, 165, 8, 0.14)], CARDBG)
blur_box(906, 1260, 1244, 1360, [(1075, 1305, 900, 18, 0.55), (1152, 1345, 90, 7, 0.14)], CARDBG)
blur_box(274.5, 1337, 536, 1380, [(410, 1369, 120, 7, 0.2)], CARDBG)
blur_box(302, 1672, 615, 1720, [(437, 1702, 122, 8, 0.15)], PAGEBG)
blur_box(263, 1810, 616, 1856, [(437, 1844, 128, 7, 0.17)], CARDBG)
blur_box(301, 2134, 557, 2146, [(430, 2140, 110, 5, 0.06)], CARDBG)
blur_box(126, 2145, 650, 2234, [(388, 2186, 900, 14, 0.58), (438, 2163, 115, 7, 0.16), (347, 2222, 117, 7, 0.16)], CARDBG)
blur_box(136, 2445, 632, 2534, [(347, 2470, 102, 8, 0.14), (350, 2518, 115, 7, 0.16)], PAGEBG)
blur_box(937, 1797, 1394, 1837, [(1165, 1815, 215, 9, 0.16), (1165, 1840, 900, 6, 0.35)], CARDBG)
blur_box(968, 2030, 1432, 2073, [(1183, 2057, 188, 8, 0.14)], PAGEBG)

top.set_xlim(0, W)
top.set_ylim(H, 0)
fig.savefig("out.png", dpi=100, facecolor="black")
